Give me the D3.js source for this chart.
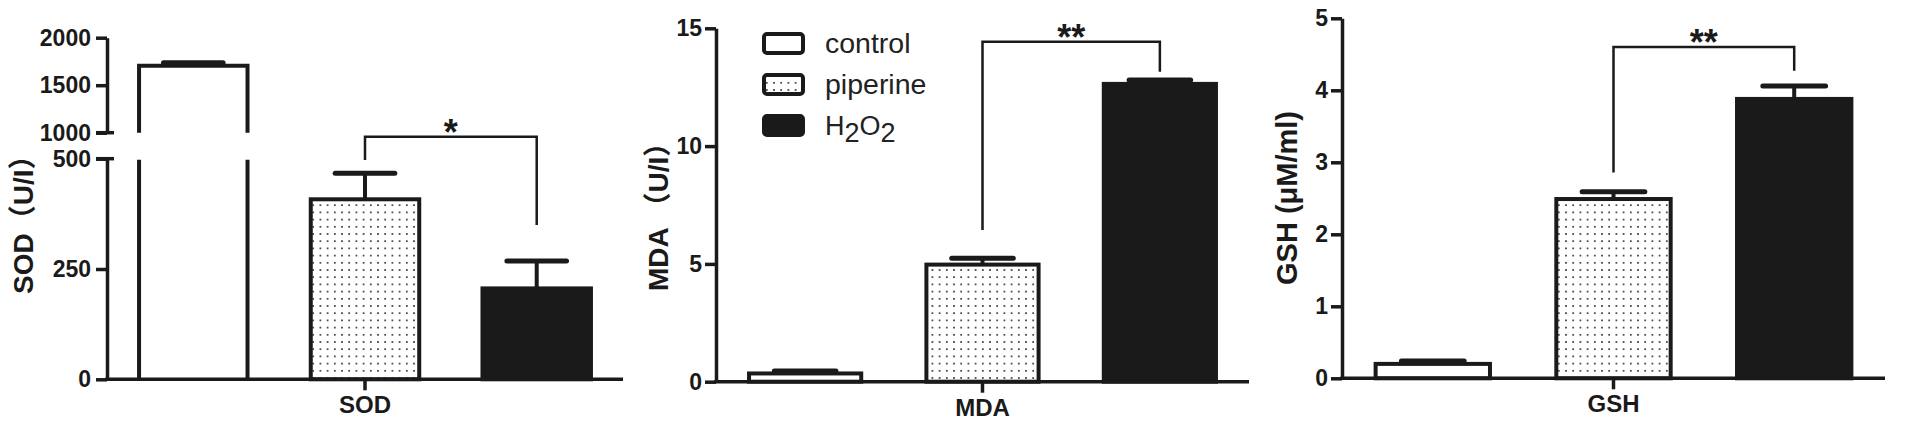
<!DOCTYPE html>
<html><head><meta charset="utf-8">
<script src="https://cdn.jsdelivr.net/npm/d3@7"></script>
<style>html,body{margin:0;padding:0;background:#fff;overflow:hidden}</style>
</head><body>
<svg id="chart" width="1905" height="421"></svg>
<script>
// ---------------- data ----------------
const categories = ["control", "piperine", "H2O2"];
const sodValues = [1705, 408, 206];
const sodErrors = [32, 59, 62];
const mdaValues = [0.35, 4.97, 12.64];
const mdaErrors = [0.1, 0.27, 0.17];
const gshValues = [0.2, 2.49, 3.88];
const gshErrors = [0.04, 0.1, 0.18];
const sodTicksLower = [0, 250, 500];
const sodTicksUpper = [1000, 1500, 2000];
const mdaTicks = [0, 5, 10, 15];
const gshTicks = [0, 1, 2, 3, 4, 5];
const panelNames = ["SOD", "MDA", "GSH"];
const yTitles = ["SOD（U/I）", "MDA （U/I）", "GSH (μM/ml)"];
const sigSOD = {from: "piperine", to: "H2O2", top: 550, left: 497, right: 350, label: "*"};
const sigMDA = {from: "piperine", to: "H2O2", top: 14.43, left: 6.44, right: 13.16, label: "**"};
const sigGSH = {from: "piperine", to: "H2O2", top: 4.6, left: 2.86, right: 4.27, label: "**"};

// ---------------- styling / layout ----------------
const INK = "#1a1a1a";
const FONT = "'Liberation Sans', Arial, 'Noto Sans CJK SC', sans-serif";
const fmt = d3.format("d");
const svg = d3.select("#chart");
const defs = svg.append("defs");
const pat = defs.append("pattern").attr("id", "dots").attr("patternUnits", "userSpaceOnUse")
  .attr("width", 7.2).attr("height", 7.2);
pat.append("rect").attr("width", 7.2).attr("height", 7.2).attr("fill", "#fff");
pat.append("circle").attr("cx", 3.6).attr("cy", 3.6).attr("r", 0.95).attr("fill", "#222");
const fills = {control: "#fff", piperine: "url(#dots)", H2O2: INK};

const panels = [
  {name: panelNames[0], title: yTitles[0], values: sodValues, errors: sodErrors, sig: sigSOD,
   x0: 107, x1: 623, base: 379.3, titleX: 33, titleY: 294, titleSize: 28, tickPad: 5,
   broken: {lower: d3.scaleLinear().domain([0, 500]).range([379.3, 158.7]),
            upper: d3.scaleLinear().domain([1000, 2000]).range([132.7, 37.7])}},
  {name: panelNames[1], title: yTitles[1], values: mdaValues, errors: mdaErrors, sig: sigMDA,
   x0: 716, x1: 1249, base: 381.7, titleX: 668, titleY: 291, titleSize: 28, tickPad: 3,
   y: d3.scaleLinear().domain([0, 15]).range([381.7, 28.3]), ticks: mdaTicks, legend: true},
  {name: panelNames[2], title: yTitles[2], values: gshValues, errors: gshErrors, sig: sigGSH,
   x0: 1342, x1: 1885, base: 378.3, titleX: 1297, titleY: 285, titleSize: 29, tickPad: 3,
   y: d3.scaleLinear().domain([0, 5]).range([378.3, 18.3]), ticks: gshTicks}
];

function styleAxis(g) {
  g.select(".domain").attr("stroke", INK).attr("stroke-width", 3.5);
  g.selectAll(".tick line").attr("stroke", INK).attr("stroke-width", 3.5);
  g.selectAll(".tick text").attr("fill", INK).attr("font-family", FONT)
    .attr("font-weight", "bold").attr("font-size", 23);
}

panels.forEach(p => {
  const g = svg.append("g");
  const xb = d3.scaleBand().domain(categories).range([p.x0, p.x1])
    .paddingInner(0.345).paddingOuter(0.175);
  const bw = xb.bandwidth();
  let yf;
  if (p.broken) {
    yf = v => v <= 750 ? p.broken.lower(v) : p.broken.upper(v);
  } else {
    yf = p.y;
  }

  // bars
  categories.forEach((c, i) => {
    const v = p.values[i], e = p.errors[i];
    const x = xb(c) + 2, w = bw - 4;
    if (p.broken && v > 1000) {
      const yl = p.broken.lower(500) + 1, yu = p.broken.upper(1000);
      g.append("rect").attr("x", x).attr("y", yl).attr("width", w).attr("height", p.base - yl)
        .attr("fill", fills[c]);
      g.append("path").attr("d", `M${x},${p.base}V${yl}M${x + w},${p.base}V${yl}`)
        .attr("stroke", INK).attr("stroke-width", 4).attr("fill", "none");
      g.append("path").attr("d", `M${x},${yu}V${yf(v)}H${x + w}V${yu}`)
        .attr("stroke", INK).attr("stroke-width", 4).attr("fill", fills[c]);
    } else {
      g.append("rect").attr("x", x).attr("y", yf(v)).attr("width", w)
        .attr("height", p.base - yf(v)).attr("fill", fills[c])
        .attr("stroke", INK).attr("stroke-width", 4);
    }
    const cx = xb(c) + bw / 2, capW = bw * 0.53;
    g.append("line").attr("x1", cx).attr("x2", cx).attr("y1", yf(v)).attr("y2", yf(v + e))
      .attr("stroke", INK).attr("stroke-width", 4);
    g.append("line").attr("x1", cx - capW / 2).attr("x2", cx + capW / 2)
      .attr("y1", yf(v + e)).attr("y2", yf(v + e))
      .attr("stroke", INK).attr("stroke-width", 5).attr("stroke-linecap", "round");
  });

  // y axes
  if (p.broken) {
    [[p.broken.lower, sodTicksLower], [p.broken.upper, sodTicksUpper]].forEach(([sc, tv]) => {
      const ax = g.append("g").attr("transform", `translate(${p.x0},0)`)
        .call(d3.axisLeft(sc).tickValues(tv).tickFormat(fmt).tickSize(11).tickSizeOuter(0).tickPadding(p.tickPad));
      styleAxis(ax);
    });
    [p.broken.upper(1000), p.broken.lower(500)].forEach(yy => {
      g.append("line").attr("x1", p.x0 - 11).attr("x2", p.x0 + 7).attr("y1", yy).attr("y2", yy)
        .attr("stroke", INK).attr("stroke-width", 3.5);
    });
  } else {
    const ax = g.append("g").attr("transform", `translate(${p.x0},0)`)
      .call(d3.axisLeft(p.y).tickValues(p.ticks).tickFormat(fmt).tickSize(11).tickSizeOuter(0).tickPadding(p.tickPad));
    styleAxis(ax);
  }

  // x axis
  const xa = g.append("g").attr("transform", `translate(0,${p.base})`)
    .call(d3.axisBottom(xb).tickValues(["piperine"]).tickFormat(() => p.name)
      .tickSize(11).tickSizeOuter(0).tickPadding(6));
  styleAxis(xa);
  xa.select(".domain").attr("d", `M${p.x0 - 1.75},0H${p.x1}`);
  xa.selectAll(".tick text").attr("font-size", 24);

  // y title
  g.append("text").attr("transform", `translate(${p.titleX},${p.titleY}) rotate(-90)`)
    .attr("text-anchor", "start").attr("font-family", FONT).attr("font-weight", "bold")
    .attr("font-size", p.titleSize).attr("fill", INK).text(p.title);

  // significance bracket
  const s = p.sig;
  const xl = xb(s.from) + bw / 2, xr = xb(s.to) + bw / 2;
  const yTop = p.broken ? p.broken.lower(s.top) : yf(s.top);
  const yL = p.broken ? p.broken.lower(s.left) : yf(s.left);
  const yR = p.broken ? p.broken.lower(s.right) : yf(s.right);
  g.append("path").attr("d", `M${xl},${yL}V${yTop}H${xr}V${yR}`)
    .attr("fill", "none").attr("stroke", INK).attr("stroke-width", 2.5);
  g.append("text").attr("x", (xl + xr) / 2).attr("y", yTop + 8).attr("text-anchor", "middle")
    .attr("font-family", FONT).attr("font-weight", "bold").attr("font-size", 36)
    .attr("fill", INK).text(s.label);

  // legend
  if (p.legend) {
    const ly = d3.scalePoint().domain(categories).range([43.5, 125.5]);
    categories.forEach(c => {
      g.append("rect").attr("x", 764).attr("y", ly(c) - 9.5).attr("width", 39).attr("height", 19)
        .attr("rx", 3).attr("fill", fills[c]).attr("stroke", INK).attr("stroke-width", 4);
      const t = g.append("text").attr("x", 825).attr("y", ly(c) + 9.5)
        .attr("font-family", FONT).attr("fill", "#222");
      if (c === "H2O2") {
        t.attr("font-size", 27);
        t.append("tspan").text("H");
        t.append("tspan").attr("dy", 7).text("2");
        t.append("tspan").attr("dy", -7).text("O");
        t.append("tspan").attr("dy", 7).text("2");
      } else {
        t.attr("font-size", 28.5).text(c);
      }
    });
  }
});
</script>
</body></html>
